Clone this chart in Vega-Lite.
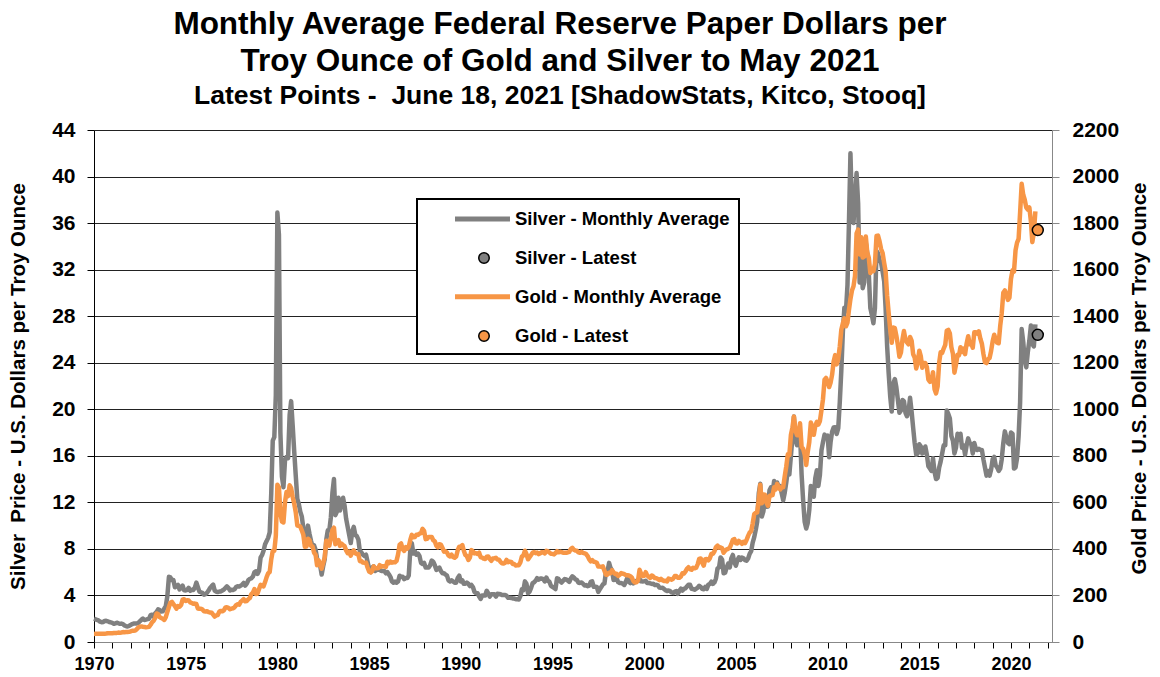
{
"$schema": "https://vega.github.io/schema/vega-lite/v6.json",
"width": 958, "height": 512,
"autosize": {"type": "none"},
"padding": {"left": 94, "top": 130, "right": 108, "bottom": 35},
"background": "white",
"config": {"font": "Liberation Sans", "view": {"stroke": null}, "legend": {"strokeWidth": 2}},
"title": {"text": ["Monthly Average Federal Reserve Paper Dollars per", "Troy Ounce of Gold and Silver to May 2021"], "subtitle": "Latest Points -\u00a0 June 18, 2021 [ShadowStats, Kitco, Stooq]", "anchor": "middle", "frame": "group", "dx": -13, "fontSize": 31.5, "fontWeight": "bold", "font": "Liberation Sans", "color": "black", "lineHeight": 37, "subtitleFontSize": 26.5, "subtitleFontWeight": "bold", "subtitleFont": "Liberation Sans", "subtitleColor": "black", "subtitleLineHeight": 30, "subtitlePadding": 5, "offset": 10},
"datasets": {
"m": [
{"d":"1970-01","s":2.00,"g":34.9},{"d":"1970-02","s":1.95,"g":35.0},{"d":"1970-03","s":1.90,"g":35.1},{"d":"1970-04","s":1.85,"g":35.6},{"d":"1970-05","s":1.75,"g":35.5},{"d":"1970-06","s":1.70,"g":35.4},{"d":"1970-07","s":1.72,"g":35.3},{"d":"1970-08","s":1.80,"g":35.4},{"d":"1970-09","s":1.82,"g":36.2},{"d":"1970-10","s":1.78,"g":37.5},{"d":"1970-11","s":1.72,"g":37.4},{"d":"1970-12","s":1.68,"g":37.4},
{"d":"1971-01","s":1.64,"g":37.9},{"d":"1971-02","s":1.56,"g":38.7},{"d":"1971-03","s":1.60,"g":38.9},{"d":"1971-04","s":1.66,"g":39.0},{"d":"1971-05","s":1.61,"g":40.5},{"d":"1971-06","s":1.56,"g":40.1},{"d":"1971-07","s":1.58,"g":41.0},{"d":"1971-08","s":1.54,"g":42.7},{"d":"1971-09","s":1.42,"g":42.0},{"d":"1971-10","s":1.37,"g":42.5},{"d":"1971-11","s":1.33,"g":42.9},{"d":"1971-12","s":1.38,"g":43.5},
{"d":"1972-01","s":1.47,"g":45.8},{"d":"1972-02","s":1.54,"g":48.3},{"d":"1972-03","s":1.59,"g":48.3},{"d":"1972-04","s":1.60,"g":49.0},{"d":"1972-05","s":1.59,"g":54.6},{"d":"1972-06","s":1.64,"g":62.1},{"d":"1972-07","s":1.78,"g":65.7},{"d":"1972-08","s":1.91,"g":67.0},{"d":"1972-09","s":2.02,"g":65.5},{"d":"1972-10","s":1.89,"g":64.9},{"d":"1972-11","s":1.92,"g":62.9},{"d":"1972-12","s":1.96,"g":63.9},
{"d":"1973-01","s":2.00,"g":65.1},{"d":"1973-02","s":2.31,"g":74.2},{"d":"1973-03","s":2.35,"g":84.4},{"d":"1973-04","s":2.17,"g":90.5},{"d":"1973-05","s":2.45,"g":102.0},{"d":"1973-06","s":2.59,"g":122.5},{"d":"1973-07","s":2.81,"g":120.2},{"d":"1973-08","s":2.75,"g":106.8},{"d":"1973-09","s":2.62,"g":103.0},{"d":"1973-10","s":2.64,"g":100.1},{"d":"1973-11","s":2.88,"g":94.8},{"d":"1973-12","s":3.08,"g":106.7},
{"d":"1974-01","s":3.95,"g":129.2},{"d":"1974-02","s":5.60,"g":150.2},{"d":"1974-03","s":5.55,"g":168.4},{"d":"1974-04","s":5.33,"g":172.2},{"d":"1974-05","s":5.32,"g":163.3},{"d":"1974-06","s":4.71,"g":154.1},{"d":"1974-07","s":4.78,"g":143.0},{"d":"1974-08","s":4.90,"g":154.6},{"d":"1974-09","s":4.52,"g":151.8},{"d":"1974-10","s":4.70,"g":158.8},{"d":"1974-11","s":4.85,"g":181.7},{"d":"1974-12","s":4.44,"g":183.9},
{"d":"1975-01","s":4.43,"g":176.3},{"d":"1975-02","s":4.48,"g":179.6},{"d":"1975-03","s":4.65,"g":178.2},{"d":"1975-04","s":4.40,"g":170.1},{"d":"1975-05","s":4.48,"g":167.4},{"d":"1975-06","s":4.46,"g":164.2},{"d":"1975-07","s":4.66,"g":165.2},{"d":"1975-08","s":5.11,"g":163.2},{"d":"1975-09","s":4.71,"g":144.0},{"d":"1975-10","s":4.33,"g":142.8},{"d":"1975-11","s":4.27,"g":142.8},{"d":"1975-12","s":4.22,"g":139.3},
{"d":"1976-01","s":4.07,"g":131.6},{"d":"1976-02","s":4.12,"g":131.0},{"d":"1976-03","s":4.23,"g":132.6},{"d":"1976-04","s":4.42,"g":128.4},{"d":"1976-05","s":4.65,"g":127.0},{"d":"1976-06","s":4.80,"g":125.7},{"d":"1976-07","s":4.93,"g":117.8},{"d":"1976-08","s":4.41,"g":109.3},{"d":"1976-09","s":4.32,"g":114.4},{"d":"1976-10","s":4.30,"g":116.0},{"d":"1976-11","s":4.33,"g":130.6},{"d":"1976-12","s":4.34,"g":133.6},
{"d":"1977-01","s":4.43,"g":132.3},{"d":"1977-02","s":4.51,"g":136.3},{"d":"1977-03","s":4.64,"g":148.3},{"d":"1977-04","s":4.78,"g":149.2},{"d":"1977-05","s":4.66,"g":146.5},{"d":"1977-06","s":4.43,"g":140.8},{"d":"1977-07","s":4.50,"g":143.4},{"d":"1977-08","s":4.47,"g":144.9},{"d":"1977-09","s":4.53,"g":149.0},{"d":"1977-10","s":4.72,"g":158.3},{"d":"1977-11","s":4.79,"g":162.1},{"d":"1977-12","s":4.76,"g":160.5},
{"d":"1978-01","s":4.84,"g":173.2},{"d":"1978-02","s":4.94,"g":178.2},{"d":"1978-03","s":5.08,"g":183.7},{"d":"1978-04","s":4.85,"g":175.1},{"d":"1978-05","s":5.01,"g":176.3},{"d":"1978-06","s":5.31,"g":183.7},{"d":"1978-07","s":5.43,"g":188.7},{"d":"1978-08","s":5.47,"g":206.0},{"d":"1978-09","s":5.62,"g":212.2},{"d":"1978-10","s":6.00,"g":227.4},{"d":"1978-11","s":6.07,"g":206.1},{"d":"1978-12","s":5.85,"g":207.8},
{"d":"1979-01","s":6.12,"g":227.3},{"d":"1979-02","s":7.26,"g":245.7},{"d":"1979-03","s":7.46,"g":242.1},{"d":"1979-04","s":7.84,"g":239.2},{"d":"1979-05","s":8.40,"g":257.6},{"d":"1979-06","s":8.67,"g":279.1},{"d":"1979-07","s":8.95,"g":294.7},{"d":"1979-08","s":9.42,"g":300.8},{"d":"1979-09","s":12.8,"g":355.2},{"d":"1979-10","s":17.3,"g":392.0},{"d":"1979-11","s":17.6,"g":392.2},{"d":"1979-12","s":21.2,"g":455.1},
{"d":"1980-01","s":36.9,"g":675.3},{"d":"1980-02","s":35.0,"g":665.3},{"d":"1980-03","s":18.0,"g":553.6},{"d":"1980-04","s":14.2,"g":517.4},{"d":"1980-05","s":13.3,"g":513.8},{"d":"1980-06","s":15.6,"g":600.7},{"d":"1980-07","s":15.9,"g":644.3},{"d":"1980-08","s":15.8,"g":626.5},{"d":"1980-09","s":19.5,"g":673.6},{"d":"1980-10","s":20.7,"g":661.2},{"d":"1980-11","s":18.6,"g":623.5},{"d":"1980-12","s":16.4,"g":594.9},
{"d":"1981-01","s":14.3,"g":557.6},{"d":"1981-02","s":12.3,"g":500.5},{"d":"1981-03","s":11.9,"g":498.8},{"d":"1981-04","s":11.2,"g":495.8},{"d":"1981-05","s":10.8,"g":479.7},{"d":"1981-06","s":9.8,"g":460.8},{"d":"1981-07","s":8.5,"g":409.3},{"d":"1981-08","s":9.0,"g":410.2},{"d":"1981-09","s":10.0,"g":443.6},{"d":"1981-10","s":9.3,"g":437.8},{"d":"1981-11","s":8.7,"g":413.3},{"d":"1981-12","s":8.2,"g":410.1},
{"d":"1982-01","s":8.3,"g":384.1},{"d":"1982-02","s":7.9,"g":374.3},{"d":"1982-03","s":7.2,"g":330.0},{"d":"1982-04","s":6.8,"g":350.5},{"d":"1982-05","s":6.6,"g":333.9},{"d":"1982-06","s":5.8,"g":314.9},{"d":"1982-07","s":6.5,"g":338.6},{"d":"1982-08","s":7.1,"g":364.1},{"d":"1982-09","s":8.8,"g":435.0},{"d":"1982-10","s":9.6,"g":422.1},{"d":"1982-11","s":9.6,"g":414.4},{"d":"1982-12","s":10.7,"g":444.3},
{"d":"1983-01","s":12.8,"g":481.3},{"d":"1983-02","s":14.0,"g":491.0},{"d":"1983-03","s":10.9,"g":419.9},{"d":"1983-04","s":11.2,"g":432.1},{"d":"1983-05","s":12.4,"g":438.0},{"d":"1983-06","s":11.3,"g":412.8},{"d":"1983-07","s":11.9,"g":422.6},{"d":"1983-08","s":12.4,"g":416.2},{"d":"1983-09","s":11.7,"g":411.7},{"d":"1983-10","s":10.6,"g":393.7},{"d":"1983-11","s":9.9,"g":381.6},{"d":"1983-12","s":9.2,"g":388.1},
{"d":"1984-01","s":8.5,"g":370.9},{"d":"1984-02","s":9.5,"g":386.5},{"d":"1984-03","s":9.9,"g":394.2},{"d":"1984-04","s":9.2,"g":381.4},{"d":"1984-05","s":9.1,"g":377.8},{"d":"1984-06","s":8.8,"g":377.6},{"d":"1984-07","s":7.8,"g":347.4},{"d":"1984-08","s":7.7,"g":347.8},{"d":"1984-09","s":7.5,"g":341.1},{"d":"1984-10","s":7.4,"g":340.2},{"d":"1984-11","s":7.5,"g":341.1},{"d":"1984-12","s":6.9,"g":320.2},
{"d":"1985-01","s":6.3,"g":303.0},{"d":"1985-02","s":6.0,"g":298.9},{"d":"1985-03","s":6.4,"g":304.0},{"d":"1985-04","s":6.5,"g":325.0},{"d":"1985-05","s":6.1,"g":316.5},{"d":"1985-06","s":6.2,"g":316.7},{"d":"1985-07","s":6.2,"g":317.4},{"d":"1985-08","s":6.2,"g":330.2},{"d":"1985-09","s":6.1,"g":323.6},{"d":"1985-10","s":6.1,"g":326.0},{"d":"1985-11","s":6.1,"g":325.3},{"d":"1985-12","s":5.9,"g":322.7},
{"d":"1986-01","s":6.0,"g":345.0},{"d":"1986-02","s":5.8,"g":339.0},{"d":"1986-03","s":5.6,"g":345.7},{"d":"1986-04","s":5.2,"g":340.8},{"d":"1986-05","s":5.1,"g":342.5},{"d":"1986-06","s":5.2,"g":342.8},{"d":"1986-07","s":5.1,"g":348.5},{"d":"1986-08","s":5.2,"g":376.6},{"d":"1986-09","s":5.7,"g":418.0},{"d":"1986-10","s":5.6,"g":423.3},{"d":"1986-11","s":5.6,"g":398.2},{"d":"1986-12","s":5.4,"g":391.3},
{"d":"1987-01","s":5.5,"g":408.3},{"d":"1987-02","s":5.5,"g":401.1},{"d":"1987-03","s":5.7,"g":408.9},{"d":"1987-04","s":7.9,"g":438.4},{"d":"1987-05","s":8.5,"g":460.2},{"d":"1987-06","s":7.6,"g":449.6},{"d":"1987-07","s":7.8,"g":450.6},{"d":"1987-08","s":7.5,"g":461.3},{"d":"1987-09","s":7.6,"g":460.3},{"d":"1987-10","s":7.4,"g":465.3},{"d":"1987-11","s":6.8,"g":467.6},{"d":"1987-12","s":6.7,"g":486.3},
{"d":"1988-01","s":6.8,"g":477.8},{"d":"1988-02","s":6.4,"g":442.1},{"d":"1988-03","s":6.4,"g":443.6},{"d":"1988-04","s":6.4,"g":451.7},{"d":"1988-05","s":6.6,"g":451.3},{"d":"1988-06","s":7.0,"g":451.5},{"d":"1988-07","s":6.9,"g":437.5},{"d":"1988-08","s":6.6,"g":432.6},{"d":"1988-09","s":6.2,"g":413.4},{"d":"1988-10","s":6.3,"g":406.8},{"d":"1988-11","s":6.4,"g":420.2},{"d":"1988-12","s":6.1,"g":418.5},
{"d":"1989-01","s":5.9,"g":404.2},{"d":"1989-02","s":5.9,"g":388.0},{"d":"1989-03","s":5.8,"g":390.2},{"d":"1989-04","s":5.7,"g":384.1},{"d":"1989-05","s":5.3,"g":371.2},{"d":"1989-06","s":5.2,"g":367.6},{"d":"1989-07","s":5.3,"g":375.0},{"d":"1989-08","s":5.2,"g":365.4},{"d":"1989-09","s":5.1,"g":361.9},{"d":"1989-10","s":5.1,"g":367.0},{"d":"1989-11","s":5.5,"g":394.3},{"d":"1989-12","s":5.7,"g":409.3},
{"d":"1990-01","s":5.2,"g":410.2},{"d":"1990-02","s":5.3,"g":416.7},{"d":"1990-03","s":5.0,"g":393.1},{"d":"1990-04","s":5.0,"g":374.3},{"d":"1990-05","s":5.1,"g":369.2},{"d":"1990-06","s":5.0,"g":352.3},{"d":"1990-07","s":4.8,"g":362.5},{"d":"1990-08","s":4.9,"g":394.9},{"d":"1990-09","s":4.7,"g":389.3},{"d":"1990-10","s":4.3,"g":380.8},{"d":"1990-11","s":4.2,"g":381.6},{"d":"1990-12","s":4.2,"g":378.2},
{"d":"1991-01","s":3.9,"g":383.7},{"d":"1991-02","s":3.7,"g":363.8},{"d":"1991-03","s":4.0,"g":363.3},{"d":"1991-04","s":4.0,"g":358.4},{"d":"1991-05","s":4.0,"g":356.8},{"d":"1991-06","s":4.4,"g":366.7},{"d":"1991-07","s":4.2,"g":367.7},{"d":"1991-08","s":3.9,"g":356.4},{"d":"1991-09","s":4.1,"g":348.8},{"d":"1991-10","s":4.1,"g":358.7},{"d":"1991-11","s":4.1,"g":359.9},{"d":"1991-12","s":3.9,"g":361.8},
{"d":"1992-01","s":4.14,"g":354.4},{"d":"1992-02","s":4.13,"g":353.9},{"d":"1992-03","s":4.10,"g":344.4},{"d":"1992-04","s":4.03,"g":338.6},{"d":"1992-05","s":4.04,"g":337.2},{"d":"1992-06","s":4.04,"g":340.8},{"d":"1992-07","s":3.97,"g":352.7},{"d":"1992-08","s":3.80,"g":342.8},{"d":"1992-09","s":3.80,"g":345.4},{"d":"1992-10","s":3.79,"g":344.4},{"d":"1992-11","s":3.74,"g":335.0},{"d":"1992-12","s":3.73,"g":334.8},
{"d":"1993-01","s":3.68,"g":329.0},{"d":"1993-02","s":3.67,"g":329.4},{"d":"1993-03","s":3.66,"g":330.1},{"d":"1993-04","s":3.94,"g":342.2},{"d":"1993-05","s":4.53,"g":367.2},{"d":"1993-06","s":4.45,"g":371.9},{"d":"1993-07","s":5.21,"g":392.1},{"d":"1993-08","s":5.00,"g":378.0},{"d":"1993-09","s":4.19,"g":355.3},{"d":"1993-10","s":4.32,"g":364.2},{"d":"1993-11","s":4.65,"g":373.8},{"d":"1993-12","s":5.05,"g":383.3},
{"d":"1994-01","s":5.13,"g":386.9},{"d":"1994-02","s":5.28,"g":381.9},{"d":"1994-03","s":5.49,"g":384.0},{"d":"1994-04","s":5.36,"g":377.3},{"d":"1994-05","s":5.45,"g":381.4},{"d":"1994-06","s":5.45,"g":385.6},{"d":"1994-07","s":5.40,"g":385.5},{"d":"1994-08","s":5.21,"g":380.4},{"d":"1994-09","s":5.54,"g":391.6},{"d":"1994-10","s":5.26,"g":389.8},{"d":"1994-11","s":5.18,"g":384.4},{"d":"1994-12","s":4.84,"g":379.5},
{"d":"1995-01","s":4.73,"g":378.6},{"d":"1995-02","s":4.64,"g":376.5},{"d":"1995-03","s":4.55,"g":382.1},{"d":"1995-04","s":5.47,"g":391.0},{"d":"1995-05","s":5.42,"g":385.2},{"d":"1995-06","s":5.23,"g":387.6},{"d":"1995-07","s":5.11,"g":386.2},{"d":"1995-08","s":5.26,"g":383.7},{"d":"1995-09","s":5.41,"g":383.1},{"d":"1995-10","s":5.37,"g":383.1},{"d":"1995-11","s":5.29,"g":385.3},{"d":"1995-12","s":5.16,"g":387.4},
{"d":"1996-01","s":5.45,"g":399.5},{"d":"1996-02","s":5.65,"g":404.8},{"d":"1996-03","s":5.55,"g":396.2},{"d":"1996-04","s":5.38,"g":392.9},{"d":"1996-05","s":5.34,"g":391.9},{"d":"1996-06","s":5.09,"g":385.3},{"d":"1996-07","s":5.08,"g":383.5},{"d":"1996-08","s":5.12,"g":387.5},{"d":"1996-09","s":5.00,"g":383.1},{"d":"1996-10","s":4.86,"g":381.1},{"d":"1996-11","s":4.89,"g":377.9},{"d":"1996-12","s":4.79,"g":369.2},
{"d":"1997-01","s":4.84,"g":355.0},{"d":"1997-02","s":5.17,"g":346.6},{"d":"1997-03","s":5.22,"g":351.8},{"d":"1997-04","s":4.74,"g":344.5},{"d":"1997-05","s":4.76,"g":343.8},{"d":"1997-06","s":4.73,"g":340.8},{"d":"1997-07","s":4.30,"g":324.1},{"d":"1997-08","s":4.54,"g":324.0},{"d":"1997-09","s":4.74,"g":322.8},{"d":"1997-10","s":4.95,"g":324.9},{"d":"1997-11","s":5.04,"g":306.0},{"d":"1997-12","s":6.01,"g":288.7},
{"d":"1998-01","s":6.07,"g":289.3},{"d":"1998-02","s":6.80,"g":297.5},{"d":"1998-03","s":6.38,"g":295.9},{"d":"1998-04","s":6.16,"g":308.4},{"d":"1998-05","s":5.33,"g":299.1},{"d":"1998-06","s":5.34,"g":292.3},{"d":"1998-07","s":5.49,"g":292.9},{"d":"1998-08","s":5.14,"g":284.1},{"d":"1998-09","s":5.06,"g":289.0},{"d":"1998-10","s":5.06,"g":296.0},{"d":"1998-11","s":5.01,"g":294.1},{"d":"1998-12","s":4.90,"g":291.4},
{"d":"1999-01","s":5.18,"g":287.1},{"d":"1999-02","s":5.54,"g":287.3},{"d":"1999-03","s":5.19,"g":286.0},{"d":"1999-04","s":5.06,"g":282.6},{"d":"1999-05","s":5.26,"g":276.4},{"d":"1999-06","s":5.04,"g":261.3},{"d":"1999-07","s":5.22,"g":256.1},{"d":"1999-08","s":5.25,"g":256.7},{"d":"1999-09","s":5.26,"g":264.7},{"d":"1999-10","s":5.41,"g":310.7},{"d":"1999-11","s":5.21,"g":293.2},{"d":"1999-12","s":5.20,"g":283.1},
{"d":"2000-01","s":5.21,"g":284.6},{"d":"2000-02","s":5.26,"g":299.9},{"d":"2000-03","s":5.07,"g":286.4},{"d":"2000-04","s":5.07,"g":280.0},{"d":"2000-05","s":5.03,"g":275.1},{"d":"2000-06","s":4.99,"g":285.7},{"d":"2000-07","s":5.00,"g":281.6},{"d":"2000-08","s":4.89,"g":274.5},{"d":"2000-09","s":4.91,"g":273.7},{"d":"2000-10","s":4.86,"g":270.6},{"d":"2000-11","s":4.68,"g":266.0},{"d":"2000-12","s":4.65,"g":271.5},
{"d":"2001-01","s":4.67,"g":265.5},{"d":"2001-02","s":4.55,"g":261.9},{"d":"2001-03","s":4.45,"g":263.0},{"d":"2001-04","s":4.38,"g":260.5},{"d":"2001-05","s":4.43,"g":272.4},{"d":"2001-06","s":4.37,"g":270.2},{"d":"2001-07","s":4.26,"g":267.5},{"d":"2001-08","s":4.22,"g":272.4},{"d":"2001-09","s":4.33,"g":283.4},{"d":"2001-10","s":4.37,"g":283.1},{"d":"2001-11","s":4.14,"g":276.2},{"d":"2001-12","s":4.39,"g":275.9},
{"d":"2002-01","s":4.58,"g":281.7},{"d":"2002-02","s":4.42,"g":295.5},{"d":"2002-03","s":4.56,"g":294.0},{"d":"2002-04","s":4.61,"g":302.7},{"d":"2002-05","s":4.77,"g":314.5},{"d":"2002-06","s":4.92,"g":321.2},{"d":"2002-07","s":4.93,"g":313.3},{"d":"2002-08","s":4.58,"g":310.3},{"d":"2002-09","s":4.55,"g":319.2},{"d":"2002-10","s":4.50,"g":316.6},{"d":"2002-11","s":4.57,"g":319.2},{"d":"2002-12","s":4.67,"g":333.4},
{"d":"2003-01","s":4.83,"g":356.9},{"d":"2003-02","s":4.73,"g":359.0},{"d":"2003-03","s":4.57,"g":340.6},{"d":"2003-04","s":4.53,"g":328.2},{"d":"2003-05","s":4.73,"g":355.7},{"d":"2003-06","s":4.56,"g":356.4},{"d":"2003-07","s":4.91,"g":351.0},{"d":"2003-08","s":4.98,"g":359.8},{"d":"2003-09","s":5.19,"g":378.9},{"d":"2003-10","s":4.99,"g":378.9},{"d":"2003-11","s":5.13,"g":389.9},{"d":"2003-12","s":5.46,"g":407.6},
{"d":"2004-01","s":6.33,"g":414.0},{"d":"2004-02","s":6.41,"g":405.3},{"d":"2004-03","s":7.27,"g":406.7},{"d":"2004-04","s":7.09,"g":403.0},{"d":"2004-05","s":5.90,"g":383.5},{"d":"2004-06","s":5.95,"g":392.4},{"d":"2004-07","s":6.42,"g":398.1},{"d":"2004-08","s":6.74,"g":400.5},{"d":"2004-09","s":6.41,"g":405.3},{"d":"2004-10","s":7.19,"g":420.5},{"d":"2004-11","s":7.48,"g":439.4},{"d":"2004-12","s":6.83,"g":442.1},
{"d":"2005-01","s":6.56,"g":424.0},{"d":"2005-02","s":7.05,"g":423.4},{"d":"2005-03","s":7.28,"g":434.2},{"d":"2005-04","s":7.05,"g":429.2},{"d":"2005-05","s":7.26,"g":421.9},{"d":"2005-06","s":7.20,"g":430.7},{"d":"2005-07","s":7.04,"g":424.5},{"d":"2005-08","s":6.99,"g":437.9},{"d":"2005-09","s":7.18,"g":456.0},{"d":"2005-10","s":7.57,"g":469.9},{"d":"2005-11","s":7.80,"g":476.7},{"d":"2005-12","s":8.55,"g":509.8},
{"d":"2006-01","s":9.01,"g":549.9},{"d":"2006-02","s":9.66,"g":555.0},{"d":"2006-03","s":10.34,"g":557.1},{"d":"2006-04","s":12.77,"g":610.6},{"d":"2006-05","s":13.60,"g":675.4},{"d":"2006-06","s":10.78,"g":596.2},{"d":"2006-07","s":11.20,"g":633.7},{"d":"2006-08","s":12.27,"g":632.6},{"d":"2006-09","s":11.62,"g":598.2},{"d":"2006-10","s":11.65,"g":585.8},{"d":"2006-11","s":13.04,"g":627.8},{"d":"2006-12","s":13.30,"g":629.8},
{"d":"2007-01","s":12.81,"g":631.2},{"d":"2007-02","s":13.83,"g":664.8},{"d":"2007-03","s":13.24,"g":654.9},{"d":"2007-04","s":13.71,"g":679.4},{"d":"2007-05","s":13.28,"g":666.9},{"d":"2007-06","s":13.40,"g":655.5},{"d":"2007-07","s":12.80,"g":665.3},{"d":"2007-08","s":12.17,"g":665.4},{"d":"2007-09","s":12.85,"g":712.7},{"d":"2007-10","s":13.71,"g":754.6},{"d":"2007-11","s":14.77,"g":806.3},{"d":"2007-12","s":14.40,"g":803.2},
{"d":"2008-01","s":15.97,"g":889.6},{"d":"2008-02","s":17.60,"g":922.3},{"d":"2008-03","s":19.37,"g":968.4},{"d":"2008-04","s":17.38,"g":909.7},{"d":"2008-05","s":16.91,"g":888.7},{"d":"2008-06","s":16.97,"g":889.5},{"d":"2008-07","s":17.96,"g":939.8},{"d":"2008-08","s":14.41,"g":839.0},{"d":"2008-09","s":12.14,"g":829.9},{"d":"2008-10","s":10.34,"g":806.6},{"d":"2008-11","s":9.75,"g":760.9},{"d":"2008-12","s":10.22,"g":816.1},
{"d":"2009-01","s":11.34,"g":858.7},{"d":"2009-02","s":13.41,"g":943.2},{"d":"2009-03","s":13.06,"g":924.3},{"d":"2009-04","s":12.48,"g":890.2},{"d":"2009-05","s":14.08,"g":928.6},{"d":"2009-06","s":14.76,"g":945.7},{"d":"2009-07","s":13.41,"g":934.2},{"d":"2009-08","s":14.36,"g":949.4},{"d":"2009-09","s":16.47,"g":996.6},{"d":"2009-10","s":17.17,"g":1043.2},{"d":"2009-11","s":17.82,"g":1127.0},{"d":"2009-12","s":17.64,"g":1134.7},
{"d":"2010-01","s":17.73,"g":1117.9},{"d":"2010-02","s":15.87,"g":1095.4},{"d":"2010-03","s":17.17,"g":1113.3},{"d":"2010-04","s":18.07,"g":1148.7},{"d":"2010-05","s":18.43,"g":1205.4},{"d":"2010-06","s":18.46,"g":1232.9},{"d":"2010-07","s":17.88,"g":1192.9},{"d":"2010-08","s":18.37,"g":1215.8},{"d":"2010-09","s":20.64,"g":1270.9},{"d":"2010-10","s":23.32,"g":1342.0},{"d":"2010-11","s":26.65,"g":1369.9},{"d":"2010-12","s":28.73,"g":1390.6},
{"d":"2011-01","s":28.40,"g":1356.4},{"d":"2011-02","s":30.70,"g":1372.7},{"d":"2011-03","s":35.81,"g":1424.0},{"d":"2011-04","s":42.0,"g":1473.8},{"d":"2011-05","s":37.16,"g":1510.4},{"d":"2011-06","s":36.0,"g":1528.7},{"d":"2011-07","s":38.3,"g":1572.8},{"d":"2011-08","s":40.3,"g":1755.8},{"d":"2011-09","s":37.7,"g":1771.9},{"d":"2011-10","s":30.9,"g":1665.2},{"d":"2011-11","s":33.1,"g":1738.9},{"d":"2011-12","s":30.4,"g":1652.3},
{"d":"2012-01","s":30.9,"g":1656.1},{"d":"2012-02","s":34.3,"g":1742.6},{"d":"2012-03","s":33.4,"g":1673.8},{"d":"2012-04","s":31.6,"g":1650.1},{"d":"2012-05","s":28.7,"g":1585.5},{"d":"2012-06","s":28.1,"g":1596.7},{"d":"2012-07","s":27.4,"g":1593.9},{"d":"2012-08","s":28.7,"g":1626.0},{"d":"2012-09","s":33.6,"g":1744.5},{"d":"2012-10","s":33.4,"g":1746.6},{"d":"2012-11","s":32.8,"g":1721.6},{"d":"2012-12","s":32.6,"g":1688.5},
{"d":"2013-01","s":31.8,"g":1670.9},{"d":"2013-02","s":31.0,"g":1627.6},{"d":"2013-03","s":28.7,"g":1593.1},{"d":"2013-04","s":25.4,"g":1487.9},{"d":"2013-05","s":23.1,"g":1414.0},{"d":"2013-06","s":21.1,"g":1343.4},{"d":"2013-07","s":19.8,"g":1285.5},{"d":"2013-08","s":22.2,"g":1351.7},{"d":"2013-09","s":22.6,"g":1348.6},{"d":"2013-10","s":21.9,"g":1316.6},{"d":"2013-11","s":20.8,"g":1275.9},{"d":"2013-12","s":19.7,"g":1225.4},
{"d":"2014-01","s":19.9,"g":1244.3},{"d":"2014-02","s":20.8,"g":1300.9},{"d":"2014-03","s":20.7,"g":1336.1},{"d":"2014-04","s":19.7,"g":1299.0},{"d":"2014-05","s":19.4,"g":1287.5},{"d":"2014-06","s":19.8,"g":1279.1},{"d":"2014-07","s":21.0,"g":1310.6},{"d":"2014-08","s":19.8,"g":1295.1},{"d":"2014-09","s":18.4,"g":1236.6},{"d":"2014-10","s":17.1,"g":1222.5},{"d":"2014-11","s":16.1,"g":1175.3},{"d":"2014-12","s":16.2,"g":1200.6},
{"d":"2015-01","s":17.0,"g":1251.8},{"d":"2015-02","s":16.8,"g":1227.1},{"d":"2015-03","s":16.2,"g":1178.6},{"d":"2015-04","s":16.3,"g":1198.9},{"d":"2015-05","s":16.8,"g":1198.6},{"d":"2015-06","s":16.1,"g":1181.5},{"d":"2015-07","s":15.1,"g":1128.3},{"d":"2015-08","s":14.9,"g":1117.9},{"d":"2015-09","s":14.7,"g":1124.8},{"d":"2015-10","s":15.8,"g":1159.3},{"d":"2015-11","s":14.6,"g":1086.4},{"d":"2015-12","s":14.0,"g":1068.3},
{"d":"2016-01","s":14.1,"g":1097.9},{"d":"2016-02","s":15.0,"g":1200.1},{"d":"2016-03","s":15.5,"g":1245.1},{"d":"2016-04","s":16.2,"g":1242.3},{"d":"2016-05","s":16.9,"g":1260.9},{"d":"2016-06","s":16.9,"g":1276.4},{"d":"2016-07","s":19.9,"g":1337.4},{"d":"2016-08","s":19.6,"g":1341.1},{"d":"2016-09","s":19.2,"g":1326.0},{"d":"2016-10","s":17.7,"g":1266.6},{"d":"2016-11","s":17.3,"g":1238.4},{"d":"2016-12","s":16.2,"g":1157.4},
{"d":"2017-01","s":16.7,"g":1192.1},{"d":"2017-02","s":17.9,"g":1234.2},{"d":"2017-03","s":17.4,"g":1231.4},{"d":"2017-04","s":17.9,"g":1266.9},{"d":"2017-05","s":16.7,"g":1246.0},{"d":"2017-06","s":16.9,"g":1260.3},{"d":"2017-07","s":16.1,"g":1236.8},{"d":"2017-08","s":16.9,"g":1283.0},{"d":"2017-09","s":17.5,"g":1314.1},{"d":"2017-10","s":17.1,"g":1279.5},{"d":"2017-11","s":17.0,"g":1281.9},{"d":"2017-12","s":16.2,"g":1264.5},
{"d":"2018-01","s":17.1,"g":1331.3},{"d":"2018-02","s":16.6,"g":1330.7},{"d":"2018-03","s":16.5,"g":1324.7},{"d":"2018-04","s":16.6,"g":1334.8},{"d":"2018-05","s":16.5,"g":1303.3},{"d":"2018-06","s":16.5,"g":1281.6},{"d":"2018-07","s":15.7,"g":1237.7},{"d":"2018-08","s":15.0,"g":1201.7},{"d":"2018-09","s":14.3,"g":1198.4},{"d":"2018-10","s":14.7,"g":1215.4},{"d":"2018-11","s":14.3,"g":1220.7},{"d":"2018-12","s":14.8,"g":1250.4},
{"d":"2019-01","s":15.7,"g":1291.8},{"d":"2019-02","s":15.9,"g":1320.1},{"d":"2019-03","s":15.2,"g":1300.9},{"d":"2019-04","s":15.0,"g":1285.9},{"d":"2019-05","s":14.7,"g":1283.7},{"d":"2019-06","s":14.9,"g":1359.0},{"d":"2019-07","s":15.7,"g":1413.0},{"d":"2019-08","s":17.1,"g":1500.4},{"d":"2019-09","s":18.1,"g":1510.6},{"d":"2019-10","s":17.6,"g":1494.8},{"d":"2019-11","s":17.1,"g":1470.0},{"d":"2019-12","s":17.0,"g":1479.1},
{"d":"2020-01","s":18.0,"g":1560.7},{"d":"2020-02","s":17.9,"g":1597.1},{"d":"2020-03","s":14.9,"g":1591.9},{"d":"2020-04","s":15.0,"g":1683.2},{"d":"2020-05","s":15.8,"g":1715.9},{"d":"2020-06","s":17.7,"g":1732.2},{"d":"2020-07","s":20.6,"g":1846.5},{"d":"2020-08","s":26.9,"g":1968.6},{"d":"2020-09","s":25.8,"g":1921.9},{"d":"2020-10","s":24.2,"g":1900.3},{"d":"2020-11","s":23.6,"g":1866.3},{"d":"2020-12","s":24.9,"g":1858.4},
{"d":"2021-01","s":25.9,"g":1867.0},{"d":"2021-02","s":27.2,"g":1808.0},{"d":"2021-03","s":25.6,"g":1718.2},{"d":"2021-04","s":25.4,"g":1760.0},{"d":"2021-05","s":27.3,"g":1850.3}
],
"latest": [{"d":"2021-06-18","s":26.4,"g":1770}]
},
"layer": [
{"layer": [
{"data": {"name": "m"}, "mark": {"type": "line", "strokeWidth": 4.5, "strokeJoin": "round"},
 "encoding": {
  "x": {"field": "d", "type": "temporal", "scale": {"type": "utc", "domain": [0, 1648425600000]},
   "axis": {"title": null, "tickCount": {"interval": "year", "step": 1}, "labelExpr": "utcyear(datum.value) % 5 === 0 ? utcFormat(datum.value, '%Y') : ''", "labelOverlap": false, "labelFlush": false, "labelFontSize": 18, "labelFontWeight": "bold", "labelColor": "black", "labelFont": "Liberation Sans", "labelPadding": 7, "tickSize": 6, "tickColor": "#000", "domainColor": "#888", "grid": false}},
  "y": {"field": "s", "type": "quantitative", "scale": {"domain": [0, 44], "nice": false},
   "axis": {"orient": "left", "values": [0,4,8,12,16,20,24,28,32,36,40,44], "grid": true, "gridColor": "#222", "gridWidth": 1, "domainColor": "#000", "tickColor": "#000", "tickSize": 7, "labelFontSize": 21, "labelFontWeight": "bold", "labelColor": "black", "labelFont": "Liberation Sans", "labelPadding": 12, "title": "Silver\u00a0 Price - U.S. Dollars per Troy Ounce", "titleFontSize": 20.5, "titleFontWeight": "bold", "titleColor": "black", "titleFont": "Liberation Sans", "titlePadding": 23}},
  "stroke": {"datum": "Silver - Monthly Average", "type": "nominal",
   "scale": {"domain": ["Silver - Monthly Average", "Silver - Latest", "Gold - Monthly Average", "Gold - Latest"], "range": ["#808080", "transparent", "#F79646", "transparent"]},
   "legend": {"orient": "none", "legendX": 323, "legendY": 69, "title": null,
    "direction": "vertical", "labelFontSize": 18.5, "labelFont": "Liberation Sans", "labelFontWeight": "bold", "labelColor": "black", "labelLimit": 400,
    "labelExpr": "datum.label === 'Silver - Monthly Average' ? datum.label + '\u00a0\u00a0\u00a0\u00a0' : datum.label",
    "symbolType": "M-3,0H3", "symbolSize": 336, "symbolStrokeWidth": 5, "symbolOffset": 45.5, "labelOffset": 20.5,
    "rowPadding": 16.9, "padding": 8, "fillColor": "white", "strokeColor": "black", "zindex": 1}
  }
 }
},
{"data": {"name": "latest"}, "mark": {"type": "point", "filled": true, "size": 120, "stroke": "black", "strokeWidth": 1.5, "opacity": 1},
 "encoding": {
  "x": {"field": "d", "type": "temporal"},
  "y": {"field": "s", "type": "quantitative"},
  "fill": {"datum": "Silver - Latest", "type": "nominal",
   "scale": {"domain": ["Silver - Latest", "Gold - Latest"], "range": ["#808080", "#F79646"]},
   "legend": {"orient": "none", "legendX": 323, "legendY": 119, "title": null, "direction": "vertical",
    "labelExpr": "''", "labelFontSize": 18, "labelFont": "Liberation Sans",
    "symbolType": "circle", "symbolSize": 110, "symbolStrokeColor": "black", "symbolStrokeWidth": 1.5, "symbolOpacity": 1,
    "symbolOffset": 58, "labelOffset": 22, "rowPadding": 60, "padding": 0, "zindex": 2}
  }
 }
}
]},
{"layer": [
{"data": {"name": "m"}, "mark": {"type": "line", "strokeWidth": 4.5, "strokeJoin": "round"},
 "encoding": {
  "x": {"field": "d", "type": "temporal"},
  "y": {"field": "g", "type": "quantitative", "scale": {"domain": [0, 2200], "nice": false},
   "axis": {"orient": "right", "values": [0,200,400,600,800,1000,1200,1400,1600,1800,2000,2200], "format": "d", "grid": false, "domainColor": "#888", "tickColor": "#888", "tickSize": 7, "labelFontSize": 21, "labelFontWeight": "bold", "labelColor": "black", "labelFont": "Liberation Sans", "labelPadding": 13, "title": "Gold Price - U.S. Dollars per Troy Ounce", "titleFontSize": 20.5, "titleFontWeight": "bold", "titleColor": "black", "titleFont": "Liberation Sans", "titlePadding": 11, "titleAngle": 270, "titleBaseline": "top", "titleY": 248}},
  "stroke": {"datum": "Gold - Monthly Average", "type": "nominal"}
 }
},
{"data": {"name": "latest"}, "mark": {"type": "point", "filled": true, "size": 120, "stroke": "black", "strokeWidth": 1.5, "opacity": 1},
 "encoding": {
  "x": {"field": "d", "type": "temporal"},
  "y": {"field": "g", "type": "quantitative"},
  "fill": {"datum": "Gold - Latest", "type": "nominal"}
 }
}
]}
],
"resolve": {"scale": {"y": "independent"}}
}
